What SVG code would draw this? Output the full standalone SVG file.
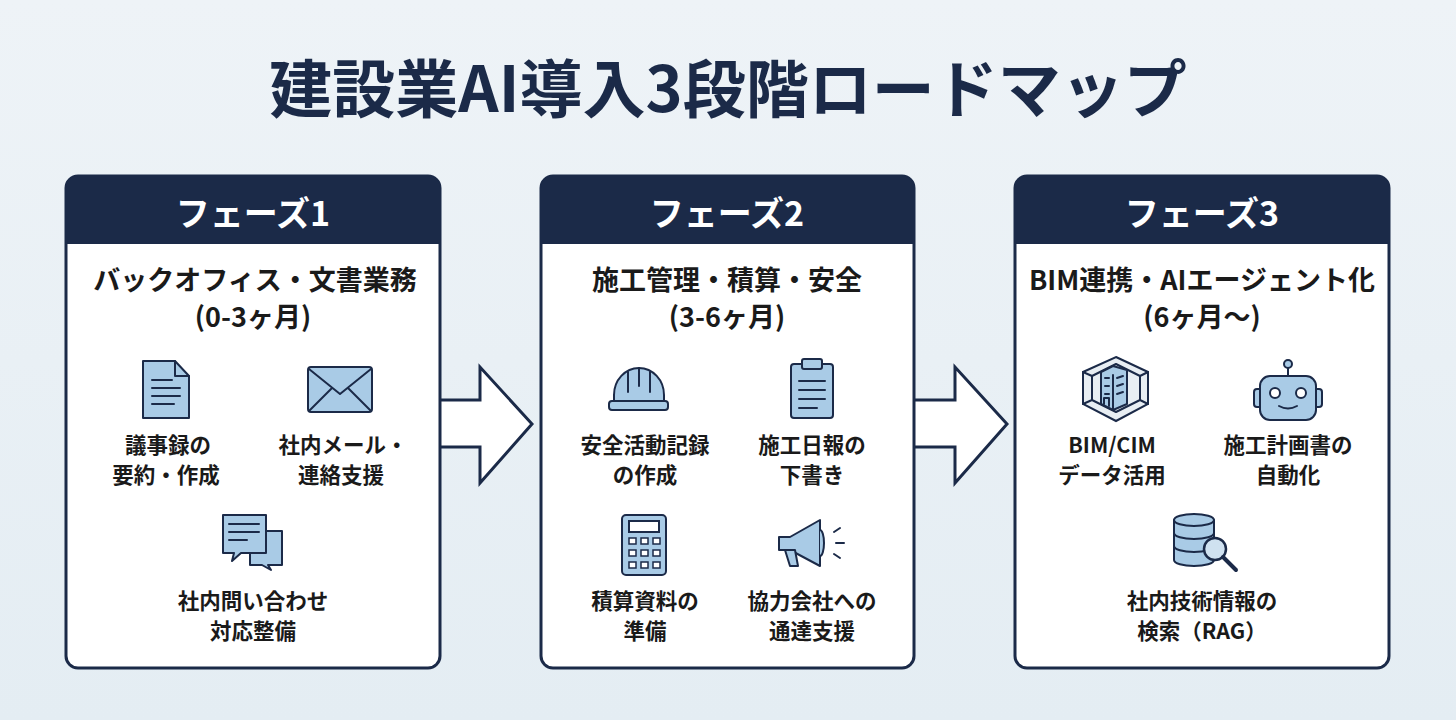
<svg xmlns="http://www.w3.org/2000/svg" width="1456" height="720" viewBox="0 0 1456 720">
<style>
text{font-family:"Noto Sans CJK JP","Noto Sans",sans-serif;font-weight:700;text-anchor:middle;fill:#1a1a1a}
.title{font-size:63px;fill:#1b2a48}
.hd{font-size:34px;fill:#fff}
.sub{font-size:27px}
.lb{font-size:21.5px}
.card{fill:#fff;stroke:#1b2a48;stroke-width:3}
.hbar{fill:#1b2a48}
.ic{fill:#a9cbe6;stroke:#1b2a48;stroke-width:2;stroke-linejoin:round;stroke-linecap:round}
.ln{fill:none;stroke:#1b2a48;stroke-width:2;stroke-linecap:round;stroke-linejoin:round}
.arrow{fill:#fff;stroke:#1b2a48;stroke-width:3;stroke-linejoin:miter}
</style>
<defs>
<linearGradient id="bg" x1="0" y1="0" x2="0" y2="1"><stop offset="0" stop-color="#eef3f7"/><stop offset="1" stop-color="#e4edf3"/></linearGradient>
</defs>
<rect width="1456" height="720" fill="url(#bg)"/>
<text class="title" x="728" y="112">建設業AI導入3段階ロードマップ</text>

<g id="connectors">
<path class="arrow" d="M440 400 H480 V367 L532 424 L480 483 V447 H440"/>
<path class="arrow" d="M914 400 H955 V367 L1007 424 L955 483 V447 H914"/>
</g>

<g id="phase1">
<rect class="card" x="66" y="176" width="374" height="492" rx="12"/>
<path class="hbar" d="M78 176 H428 A12 12 0 0 1 440 188 V244 H66 V188 A12 12 0 0 1 78 176Z"/>
<text class="hd" x="253" y="226">フェーズ1</text>
<text class="sub" x="255" y="290">バックオフィス・文書業務</text>
<text class="sub" x="253" y="327">(0-3ヶ月)</text>
<g id="p1-doc"><path class="ic" d="M143 361 H175 L189 376 V418 H143Z"/><path class="ln" d="M175 361 V376 H189 M152 380 H172 M152 388 H180 M152 396 H180 M152 404 H174"/></g>
<text class="lb" x="168" y="453">議事録の</text><text class="lb" x="166" y="483">要約・作成</text>
<g id="p1-mail"><rect class="ic" x="308" y="367" width="64" height="45" rx="3"/><path class="ln" d="M309 369 L340 394 L371 369 M309 411 L332 388 M371 411 L348 388"/></g>
<text class="lb" x="343" y="453">社内メール・</text><text class="lb" x="341" y="483">連絡支援</text>
<g id="p1-chat"><path class="ic" d="M250 531 H282 V565 H268 L271 570 L262 565 H250Z"/><path class="ic" d="M223 515 H266 V553 H241 L232 561 L234 553 H223Z"/><path class="ln" d="M229 524 H259 M229 532 H259 M229 540 H247"/></g>
<text class="lb" x="253" y="609">社内問い合わせ</text><text class="lb" x="253" y="639">対応整備</text>
</g>

<g id="phase2">
<rect class="card" x="541" y="176" width="373" height="492" rx="12"/>
<path class="hbar" d="M553 176 H902 A12 12 0 0 1 914 188 V244 H541 V188 A12 12 0 0 1 553 176Z"/>
<text class="hd" x="727" y="226">フェーズ2</text>
<text class="sub" x="727" y="290">施工管理・積算・安全</text>
<text class="sub" x="727" y="327">(3-6ヶ月)</text>
<g id="p2-helmet"><path class="ic" d="M614 402 V395 A25 27 0 0 1 664 395 V402Z"/><rect class="ic" x="609" y="401" width="59" height="9" rx="3"/><path class="ln" d="M639 368 V386 M628 372 V392 M650 372 V392"/></g>
<text class="lb" x="645" y="453">安全活動記録</text><text class="lb" x="645" y="483">の作成</text>
<g id="p2-clip"><rect class="ic" x="791" y="364" width="42" height="54" rx="3"/><rect class="ic" x="802" y="359" width="20" height="10" rx="2"/><path class="ln" d="M799 381 H825 M799 390 H825 M799 399 H825 M799 408 H817"/></g>
<text class="lb" x="812" y="453">施工日報の</text><text class="lb" x="812" y="483">下書き</text>
<g id="p2-calc"><rect class="ic" x="622" y="515" width="44" height="60" rx="4"/><rect x="629" y="521" width="30" height="11" fill="#fff" stroke="#1b2a48" stroke-width="2"/>
<g fill="#fff" stroke="#1b2a48" stroke-width="1.5"><rect x="629" y="538" width="7" height="6"/><rect x="641" y="538" width="7" height="6"/><rect x="653" y="538" width="7" height="6"/><rect x="629" y="550" width="7" height="6"/><rect x="641" y="550" width="7" height="6"/><rect x="653" y="550" width="7" height="6"/><rect x="629" y="562" width="7" height="6"/><rect x="641" y="562" width="7" height="6"/><rect x="653" y="562" width="7" height="6"/></g></g>
<text class="lb" x="645" y="609">積算資料の</text><text class="lb" x="645" y="639">準備</text>
<g id="p2-mega"><path class="ic" d="M779 537 H790 L820 520 V566 L790 550 H779Z"/><path class="ic" d="M785 550 L790 566 H798 L795 550Z"/><path class="ic" d="M820 530 A4 13 0 0 1 820 556"/><path class="ln" d="M834 532 L840 528 M836 543 H844 M834 554 L840 558"/></g>
<text class="lb" x="812" y="609">協力会社への</text><text class="lb" x="812" y="639">通達支援</text>
</g>

<g id="phase3">
<rect class="card" x="1015" y="176" width="374" height="492" rx="12"/>
<path class="hbar" d="M1027 176 H1377 A12 12 0 0 1 1389 188 V244 H1015 V188 A12 12 0 0 1 1027 176Z"/>
<text class="hd" x="1202" y="226">フェーズ3</text>
<text class="sub" x="1202" y="290">BIM連携・AIエージェント化</text>
<text class="sub" x="1202" y="327">(6ヶ月〜)</text>
<g id="p3-bim"><path d="M1116 357 L1148 372 V404 L1116 421 L1083 404 V372Z" fill="#e8eef3" stroke="#1b2a48" stroke-width="2"/>
<path class="ln" d="M1092 376 L1116 364 L1140 376 V400 L1116 412 L1092 400Z M1083 372 L1092 376 M1148 372 L1140 376 M1083 404 L1092 400 M1148 404 L1140 400"/>
<path class="ic" d="M1101 372 L1113 366 L1127 370 V404 L1113 410 L1101 404Z"/><path class="ln" d="M1113 375 V410 M1105 378 H1109 M1105 386 H1109 M1105 394 H1109 M1117 378 L1123 376 M1117 386 L1123 384 M1117 394 L1123 392 M1104 404 V398 H1109 V406"/></g>
<text class="lb" x="1112" y="453">BIM/CIM</text><text class="lb" x="1112" y="483">データ活用</text>
<g id="p3-robot"><circle cx="1288" cy="364" r="4" fill="#a9cbe6" stroke="#1b2a48" stroke-width="2"/><path class="ln" d="M1288 368 V376"/>
<rect class="ic" x="1254" y="389" width="8" height="18" rx="3"/><rect class="ic" x="1314" y="389" width="8" height="18" rx="3"/>
<rect class="ic" x="1260" y="376" width="56" height="44" rx="10"/><circle cx="1275" cy="393" r="5" fill="#fff" stroke="#1b2a48" stroke-width="2"/><circle cx="1301" cy="393" r="5" fill="#fff" stroke="#1b2a48" stroke-width="2"/><path class="ln" d="M1279 406 Q1288 411 1297 406"/></g>
<text class="lb" x="1288" y="453">施工計画書の</text><text class="lb" x="1288" y="483">自動化</text>
<g id="p3-db"><path class="ic" d="M1174 520 V560 A20 6 0 0 0 1214 560 V520Z"/><ellipse class="ic" cx="1194" cy="520" rx="20" ry="6"/><path class="ln" d="M1174 533 A20 6 0 0 0 1214 533 M1174 546 A20 6 0 0 0 1214 546"/>
<circle cx="1215" cy="549" r="11" fill="#cfe1f0" stroke="#1b2a48" stroke-width="2.5"/><path d="M1223 557 L1236 570" stroke="#1b2a48" stroke-width="4" stroke-linecap="round"/></g>
<text class="lb" x="1202" y="609">社内技術情報の</text><text class="lb" x="1202" y="639">検索（RAG）</text>
</g>
</svg>
